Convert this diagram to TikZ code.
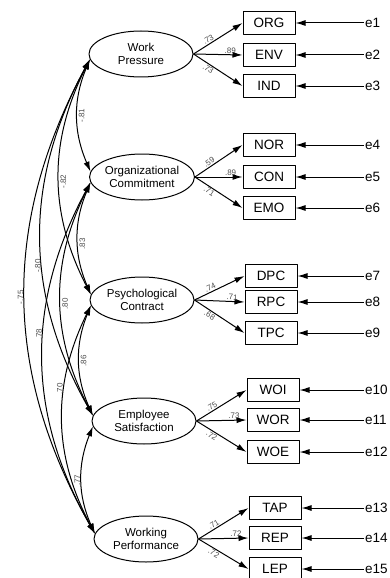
\documentclass[tikz,border=0pt]{standalone}
\usepackage{fontspec}
\setmainfont{Liberation Sans}
\usetikzlibrary{shapes.geometric,arrows.meta}
\tikzset{
	latent/.style={ellipse, draw, line width=1pt, minimum width=104pt, minimum height=46pt, inner sep=0pt, align=center, font=\fontsize{11.5}{13}\selectfont},
	observed/.style={rectangle, draw, line width=1pt, minimum width=52pt, minimum height=23pt, inner sep=0pt, font=\fontsize{13.5}{14}\selectfont},
	err/.style={anchor=west, inner sep=1pt, font=\fontsize{13.5}{14}\selectfont},
	load/.style={->, line width=1pt},
	cov/.style={<->, line width=1pt},
	coef/.style={font=\fontsize{8}{9}\selectfont, text=black!70, inner sep=1pt},
}
\begin{document}
\begin{tikzpicture}[x=1pt, y=1pt, >={Latex[length=10pt,width=6pt]}, line join=round]
			\useasboundingbox (0,0) rectangle (390,-578);
			\def \ex{364}
			% latent variables
			\node[latent] (wp) at (141,-54) {Work\\Pressure};
			\node[latent] (oc) at (142,-177) {Organizational\\Commitment};
			\node[latent] (pc) at (142,-300) {Psychological\\Contract};
			\node[latent] (es) at (144,-421) {Employee\\Satisfaction};
			\node[latent] (wk) at (146,-539) {Working\\Performance};
			% indicators
			\node[observed] (org) at (269,-23) {ORG};
			\node[observed] (env) at (269,-55) {ENV};
			\node[observed] (ind) at (269,-86) {IND};
			\node[observed] (nor) at (269,-145) {NOR};
			\node[observed] (con) at (269,-177) {CON};
			\node[observed] (emo) at (269,-208) {EMO};
			\node[observed] (dpc) at (271,-276) {DPC};
			\node[observed] (rpc) at (271,-302) {RPC};
			\node[observed] (tpc) at (271,-333) {TPC};
			\node[observed] (woi) at (273,-390) {WOI};
			\node[observed] (wor) at (273,-420) {WOR};
			\node[observed] (woe) at (273,-452) {WOE};
			\node[observed] (tap) at (275,-508) {TAP};
			\node[observed] (rep) at (275,-538) {REP};
			\node[observed] (lep) at (275,-569) {LEP};
			% error terms
			\foreach \b/\e/\y in {org/e1/-23, env/e2/-55, ind/e3/-86, nor/e4/-145, con/e5/-177, emo/e6/-208, dpc/e7/-276, rpc/e8/-302, tpc/e9/-333, woi/e10/-390, wor/e11/-420, woe/e12/-452, tap/e13/-508, rep/e14/-538, lep/e15/-569}
			{
				\node[err] (\e) at (\ex,\y) {\e};
				\draw[load] (\e) -- (\b);
			}
			% loadings
			\draw[load] (wp.east) -- (org.west) node[coef, pos=0.35, above, sloped] {.73};
			\draw[load] (wp.east) -- (env.west) node[coef, pos=0.75, above, sloped] {.89};
			\draw[load] (wp.east) -- (ind.west) node[coef, pos=0.35, below, sloped] {.73};
			\draw[load] (oc.east) -- (nor.west) node[coef, pos=0.35, above, sloped] {.59};
			\draw[load] (oc.east) -- (con.west) node[coef, pos=0.75, above, sloped] {.89};
			\draw[load] (oc.east) -- (emo.west) node[coef, pos=0.35, below, sloped] {.71};
			\draw[load] (pc.east) -- (dpc.west) node[coef, pos=0.35, above, sloped] {.74};
			\draw[load] (pc.east) -- (rpc.west) node[coef, pos=0.75, above, sloped] {.71};
			\draw[load] (pc.east) -- (tpc.west) node[coef, pos=0.35, below, sloped] {.68};
			\draw[load] (es.east) -- (woi.west) node[coef, pos=0.35, above, sloped] {.75};
			\draw[load] (es.east) -- (wor.west) node[coef, pos=0.75, above, sloped] {.73};
			\draw[load] (es.east) -- (woe.west) node[coef, pos=0.35, below, sloped] {.72};
			\draw[load] (wk.east) -- (tap.west) node[coef, pos=0.35, above, sloped] {.71};
			\draw[load] (wk.east) -- (rep.west) node[coef, pos=0.75, above, sloped] {.72};
			\draw[load] (wk.east) -- (lep.west) node[coef, pos=0.35, below, sloped] {.72};
			% covariances
			\draw[cov] (wp.186) to[bend right=23] node[coef, pos=0.5, rotate=90, anchor=north] {-.81} (oc.174);
			\draw[cov] (oc.186) to[bend right=23] node[coef, pos=0.55, rotate=90, anchor=north] {.83} (pc.174);
			\draw[cov] (pc.186) to[bend right=23] node[coef, pos=0.5, rotate=90, anchor=north] {.86} (es.174);
			\draw[cov] (es.186) to[bend right=23] node[coef, pos=0.5, rotate=90, anchor=south] {.77} (wk.174);
			\draw[cov] (wp.186) to[bend right=27] node[coef, pos=0.52, rotate=90, anchor=north] {-.82} (pc.174);
			\draw[cov] (oc.186) to[bend right=27] node[coef, pos=0.52, rotate=90, anchor=north] {.80} (es.174);
			\draw[cov] (pc.186) to[bend right=27] node[coef, pos=0.36, rotate=90, anchor=south] {.70} (wk.174);
			\draw[cov] (wp.186) to[bend right=29] node[coef, pos=0.58, rotate=90, anchor=south] {-.80} (es.174);
			\draw[cov] (oc.186) to[bend right=29] node[coef, pos=0.43, rotate=90, anchor=south] {.78} (wk.174);
			\draw[cov] (wp.186) to[bend right=29] node[coef, pos=0.5, rotate=90, anchor=south] {-.75} (wk.174);
		\end{tikzpicture}
\end{document}
